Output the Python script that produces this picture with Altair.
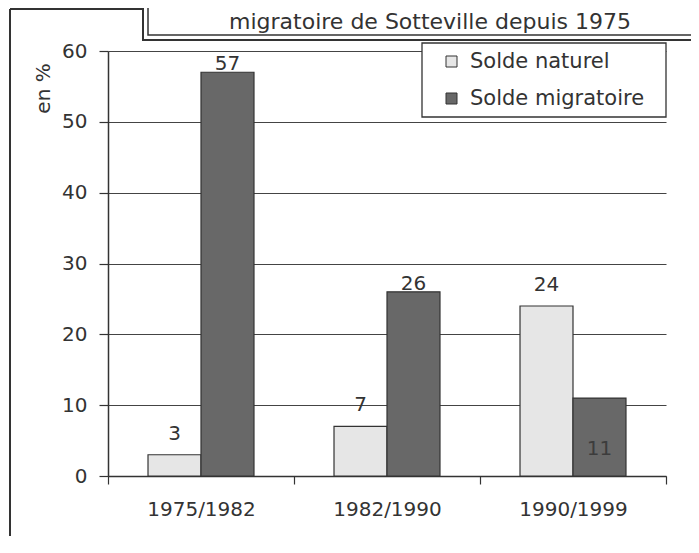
import altair as alt
import pandas as pd

periods = ["1975/1982", "1982/1990", "1990/1999"]
series = ["Solde naturel", "Solde migratoire"]
solde_naturel = [3, 7, 24]
solde_migratoire = [57, 26, 11]
y_ticks = [0, 10, 20, 30, 40, 50, 60]
title_text = "migratoire de Sotteville depuis 1975"
y_title = "en %"
bar_colors = ["#e6e6e6", "#686868"]

rows = []
for i, p in enumerate(periods):
    rows.append({"period": p, "series": series[0], "value": solde_naturel[i]})
    rows.append({"period": p, "series": series[1], "value": solde_migratoire[i]})
df = pd.DataFrame(rows)

FONT = "DejaVu Sans"
INK = "#333333"
W, H = 558, 425

x_enc = alt.X(
    "period:N", sort=periods,
    scale=alt.Scale(paddingInner=0, paddingOuter=0),
    axis=alt.Axis(title=None, tickBand="extent", labelAngle=0, labelFont=FONT,
                  labelFontSize=20, labelColor=INK, tickSize=8, tickColor=INK,
                  tickWidth=1.2, domainColor=INK, domainWidth=1.5, labelPadding=15,
                  grid=False),
)
xo_enc = alt.XOffset("series:N", sort=series,
                     scale=alt.Scale(paddingInner=0, paddingOuter=0.755))
y_enc = alt.Y(
    "value:Q", scale=alt.Scale(domain=[0, 60], nice=False),
    axis=alt.Axis(values=y_ticks, title=y_title, titleAngle=270, titleX=-65, titleY=37,
                  titleAlign="center", titleBaseline="middle", titleFont=FONT,
                  titleFontSize=20, titleFontWeight="normal", titleColor=INK,
                  labelFont=FONT, labelFontSize=20, labelColor=INK, tickSize=9,
                  tickColor=INK, tickWidth=1.2, labelPadding=12, gridColor="#444444",
                  gridWidth=1.1, domainColor=INK, domainWidth=1.5),
)

base = alt.Chart(df)

bars = base.mark_bar(stroke=INK, strokeWidth=1.2).encode(
    x=x_enc, xOffset=xo_enc, y=y_enc,
    color=alt.Color("series:N", sort=series,
                    scale=alt.Scale(domain=series, range=bar_colors),
                    legend=alt.Legend(orient="none", legendX=333, legendY=0, title=None,
                                      labelFont=FONT, labelFontSize=21, labelColor=INK,
                                      labelLimit=0,
                                      symbolType="square", symbolSize=121,
                                      symbolStrokeColor=INK, symbolStrokeWidth=1,
                                      symbolOpacity=1, rowPadding=15, labelOffset=8,
                                      padding=0)),
)

txt = dict(x=x_enc, xOffset=xo_enc, y=y_enc, text="value:Q")
lab_light = base.transform_filter(alt.datum.series == series[0]).mark_text(
    dy=-15, baseline="alphabetic", font=FONT, fontSize=20, color=INK).encode(**txt)
lab_dark = base.transform_filter(
    (alt.datum.series == series[1]) & (alt.datum.period != periods[2])).mark_text(
    dy=-2, baseline="alphabetic", font=FONT, fontSize=20, color=INK).encode(**txt)
lab_in = base.transform_filter(
    (alt.datum.series == series[1]) & (alt.datum.period == periods[2])).mark_text(
    dy=57, baseline="alphabetic", font=FONT, fontSize=20, color="#3c3c3c").encode(**txt)

deco = alt.Chart(pd.DataFrame({"k": [0]}))
frame_left = deco.mark_rule(color=INK, strokeWidth=2).encode(
    x=alt.value(-98), y=alt.value(-42), y2=alt.value(600))
frame_top = deco.mark_rule(color=INK, strokeWidth=2).encode(
    x=alt.value(-98), x2=alt.value(36), y=alt.value(-42))
title_outer = deco.mark_rect(fill="white", stroke=INK, strokeWidth=2).encode(
    x=alt.value(35), x2=alt.value(640), y=alt.value(-80), y2=alt.value(-11))
title_inner = deco.mark_rect(fill="white", stroke=INK, strokeWidth=1.5).encode(
    x=alt.value(40), x2=alt.value(640), y=alt.value(-80), y2=alt.value(-16))
title_mark = deco.mark_text(font=FONT, fontSize=22, color=INK, align="center",
                            baseline="alphabetic").encode(
    x=alt.value(322), y=alt.value(-22), text=alt.value(title_text))
legend_box = deco.mark_rect(fill="white", stroke=INK, strokeWidth=1.3).encode(
    x=alt.value(314), x2=alt.value(558), y=alt.value(-8), y2=alt.value(66))

chart = alt.layer(
    frame_left, frame_top, title_outer, title_inner, title_mark,
    bars, lab_light, lab_dark, lab_in, legend_box,
).properties(
    width=W, height=H,
    padding={"left": 100, "top": 43, "right": 25, "bottom": 60},
    autosize=alt.AutoSizeParams(type="none"),
    background="white",
).configure_view(stroke=None)

chart.save("out.html", embed_options={"renderer": "svg", "actions": False})
